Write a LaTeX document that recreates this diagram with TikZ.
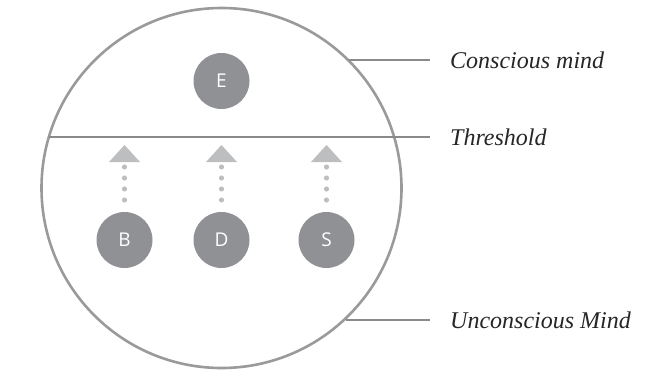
\documentclass[tikz,border=0pt]{standalone}
\usepackage{fontspec}
\setmainfont{Liberation Serif}
\newfontfamily\nodefont{Open Sans}
\definecolor{rimgray}{HTML}{9A9A9C}
\definecolor{linegray}{HTML}{8A8A8C}
\definecolor{ballgray}{HTML}{909194}
\definecolor{lightgray2}{HTML}{BDBEC0}
\tikzset{
  ball/.style={circle, fill=ballgray, minimum size=56pt, inner sep=0pt, text=white, font=\nodefont\fontsize{19}{19}\selectfont},
  lbl/.style={anchor=west, inner sep=0pt, font=\itshape\fontsize{24}{24}\selectfont, text=black!85},
  leader/.style={draw=linegray, line width=1.6pt},
  dotc/.style={fill=lightgray2},
}
\begin{document}
\begin{tikzpicture}[x=1pt,y=-1pt]
\useasboundingbox (0,0) rectangle (664,372);
\node[circle, draw=rimgray, line width=2.6pt, minimum size=360pt, inner sep=0pt] (mind) at (221.5,188) {};
% labels
\node[lbl] (cm) at (450,60) {Conscious mind};
\node[lbl] (th) at (450,137) {Threshold};
\node[lbl] (um) at (450,320) {Unconscious Mind};
\coordinate (cmL) at (348.5,60);
\coordinate (cmR) at (430,60);
\coordinate (thL) at (49,137);
\coordinate (thR) at (430,137);
\coordinate (umL) at (346,320);
\coordinate (umR) at (430,320);
\draw[leader] (cmL) -- (cmR);
\draw[leader] (thL) -- (thR);
\draw[leader] (umL) -- (umR);
% balls
\node[ball] (E) at (221.5,81) {E};
\node[ball] (B) at (124.5,240) {B};
\node[ball] (D) at (221.5,240) {D};
\node[ball] (S) at (326.5,240) {S};
% dotted arrows
\foreach \n in {B,D,S}{
  \foreach \yy in {167,178,189,200}{
    \fill[dotc] (\n.center |- 0,\yy) circle (2.6pt);
  }
  \fill[dotc] ([xshift=-15.5pt]\n.center |- 0,162) -- ([xshift=15.5pt]\n.center |- 0,162) -- (\n.center |- 0,145) -- cycle;
}
\end{tikzpicture}
\end{document}
